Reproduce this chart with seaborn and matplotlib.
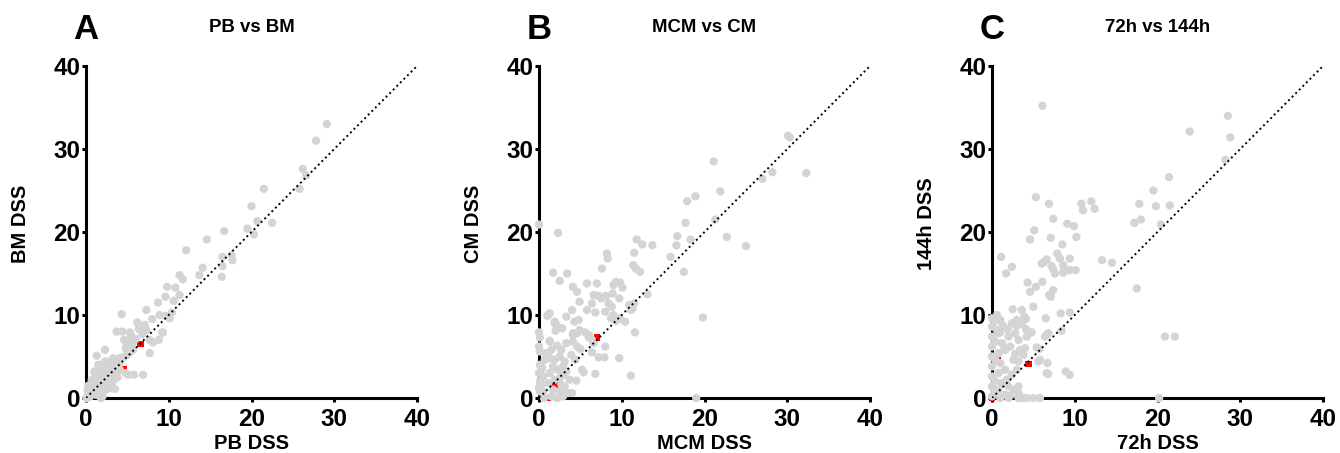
import matplotlib
matplotlib.use("Agg")
import matplotlib.pyplot as plt
import seaborn as sns

# ---------------- data ----------------
panel_letters = ["A", "B", "C"]
panel_titles = ["PB vs BM", "MCM vs CM", "72h vs 144h"]
x_labels = ["PB DSS", "MCM DSS", "72h DSS"]
y_labels = ["BM DSS", "CM DSS", "144h DSS"]
ticks = [0, 10, 20, 30, 40]
diag = [0, 40]

a_pts = [(29.1,33.0),(27.8,31.0),(26.2,27.6),(26.6,26.8),(25.8,25.2),(21.5,25.2),(20.0,23.1),(20.7,21.3),
         (22.5,21.1),(19.5,20.4),(20.3,19.7),(16.7,20.1),(14.6,19.1),(12.1,17.8),(16.5,17.0),(17.7,16.6),
         (17.6,17.2),(14.1,15.7),(16.4,14.6),(16.5,15.9),(13.7,14.8),(11.3,14.8),(11.7,14.3),(9.8,13.4),
         (10.8,13.3),(11.3,12.4),(9.6,12.2),(10.6,11.7),(8.7,11.5),(7.3,10.6),(4.3,10.1),(8.9,10.0),
         (10.1,9.6),(6.2,9.1),(8.0,9.5),(9.3,7.9),(8.8,7.0),(3.7,8.0),(4.4,8.0),(5.3,7.9),(6.4,8.3),
         (7.3,8.2),(8.1,6.7),(7.7,5.4),(6.9,2.8),(2.3,5.8),(1.3,5.1),(4.6,7.0),(4.9,6.2),(5.7,5.8),
         (3.2,1.2),(5.1,2.8),(4.1,3.4),(6.5,8.6),(7.1,8.8),(7.7,7.0),(9.2,7.9),(5.2,7.0),(5.6,6.6),
         (5.5,5.9),(4.8,6.0),(3.3,4.8),(4.1,4.8),(3.7,4.4),(2.3,4.4),(2.5,3.8),(2.1,3.4),
         (1.7,3.0),(4.8,3.0),(5.8,2.8),(3.8,2.5),(3.4,2.2),(3.5,1.1),(2.9,1.2),(9.6,9.9),(10.4,10.3),
         (5.5,7.4),(6.8,7.7),(6.0,7.1),
         (0.2,0.3),(0.4,0.8),(0.5,0.2),(0.6,1.2),(0.8,0.5),(0.9,1.6),(1.0,1.0),(1.1,2.0),(1.2,0.4),
         (1.3,1.4),(1.4,2.5),(1.5,1.8),(1.6,0.9),(1.7,3.3),(1.8,2.2),(1.9,0.3),(2.0,1.5),(2.1,2.8),
         (2.2,3.6),(2.4,1.0),(2.5,2.0),(2.6,4.0),(2.8,4.4),(3.0,3.0),(3.1,1.6),(3.3,2.6),(3.4,4.1),
         (3.6,3.5),(3.9,4.6),(4.0,4.2),(0.1,0.0),(0.3,1.5),(0.7,2.2),(1.0,3.2),(1.5,4.0),(1.8,0.0),
         (2.0,0.2),(0.5,0.6),(0.2,1.0),(4.5,4.9),(5.0,5.2),(5.3,5.5),(3.2,3.8),(2.7,3.1),(1.2,2.7)]
a_x = [p[0] for p in a_pts]
a_y = [p[1] for p in a_pts]
a_red_x = [6.6, 4.5]
a_red_y = [6.5, 3.5]

b_pts = [(30.1,31.6),(30.3,31.4),(21.1,28.5),(32.3,27.1),(28.2,27.2),(27.0,26.4),(21.9,24.9),(18.9,24.3),
         (17.9,23.7),(21.3,21.5),(17.7,21.1),(0.0,20.9),(2.3,19.9),(16.7,19.5),(22.7,19.4),(18.3,19.1),
         (11.8,19.1),(12.5,18.5),(13.7,18.4),(16.6,18.4),(25.0,18.3),(11.5,17.5),(8.2,17.4),(8.3,16.8),
         (15.9,17.0),(11.4,16.0),(11.7,15.6),(12.2,15.2),(7.6,15.6),(17.5,15.2),(1.7,15.1),(3.4,15.0),
         (2.5,14.1),(5.8,13.8),(7.0,13.8),(4.1,13.4),(9.3,14.0),(9.0,13.6),(9.8,13.9),(10.1,13.3),
         (4.6,12.8),(6.6,12.4),(7.2,12.3),(7.5,12.0),(8.1,12.3),(13.1,12.5),(8.9,12.6),(4.9,11.6),
         (6.4,11.4),(8.4,11.4),(8.8,11.0),(10.9,11.2),(11.3,10.8),(11.5,11.4),(9.7,12.0),(4.0,10.6),
         (5.8,10.6),(1.3,10.2),(1.0,9.9),(6.8,10.3),(8.0,10.4),(11.1,10.6),(9.0,10.0),(3.3,9.8),
         (4.3,9.2),(4.8,9.4),(1.9,9.2),(2.1,8.8),(8.7,9.6),(9.3,9.3),(9.8,9.6),(10.4,9.2),(19.8,9.7),
         (2.8,8.4),(2.0,8.1),(4.1,7.6),(4.6,7.8),(5.6,7.9),(6.0,7.6),(11.6,7.9),(0.0,7.9),(6.0,7.3),
         (6.4,7.0),(6.6,6.6),(1.3,6.9),(8.0,6.2),(4.6,6.2),(5.0,5.9),(2.7,5.8),(6.4,5.5),(7.2,4.9),
         (7.9,4.9),(9.7,4.8),(3.9,5.2),(4.4,4.6),(5.2,3.4),(5.4,3.1),(4.5,2.1),(6.8,2.9),(11.1,2.7),
         (19.0,0.0),(4.0,0.6),
         (1.1,10.0),(1.9,9.0),(1.3,6.8),(3.3,6.6),(4.1,6.8),(4.1,7.8),(4.9,8.2),(0.1,7.3),(0.1,5.6),
         (0.1,4.0),(0.1,2.0),(0.1,0.8),(0.7,4.6),(1.3,4.8),(1.9,4.6),(2.5,5.0),(3.1,4.4),(1.7,3.8),
         (2.3,3.4),(2.9,3.8),(1.3,3.0),(0.5,2.6),(1.9,2.2),(1.1,1.8),(2.5,2.4),(3.3,3.2),(3.7,2.2),
         (3.1,1.4),(1.7,1.0),(2.5,0.8),(0.5,0.8),(1.5,0.2),(2.9,0.2),(3.5,0.6),(0.0,6.2),(0.0,3.0),
         (0.0,1.2),(0.4,3.6),(0.8,5.4),(1.5,5.8),(2.2,6.3),(0.6,0.0),(2.2,0.0),(3.0,2.8),(0.3,1.6),
         (2.7,1.6)]
b_x = [p[0] for p in b_pts]
b_y = [p[1] for p in b_pts]
b_red_x = [7.0, 1.9, 1.0]
b_red_y = [7.3, 1.6, 0.0]

c_pts = [(6.1,35.2),(28.5,34.0),(28.8,31.4),(23.9,32.1),(28.2,28.7),(21.4,26.6),(19.5,25.0),(19.8,23.1),
         (21.5,23.2),(17.8,23.4),(17.2,21.1),(18.0,21.5),(20.4,20.9),(5.3,24.2),(6.9,23.4),(10.8,23.4),
         (11.0,22.6),(12.0,23.7),(12.4,22.8),(7.4,21.6),(9.1,21.0),(9.9,20.7),(5.1,20.2),(10.2,19.4),
         (4.6,19.1),(7.1,19.3),(8.5,18.5),(7.9,17.4),(8.2,16.8),(1.1,17.0),(9.4,16.8),(6.6,16.7),
         (6.3,16.4),(6.0,16.2),(13.3,16.6),(14.5,16.3),(2.4,15.8),(7.2,15.9),(7.4,15.5),(7.6,15.0),
         (8.6,16.0),(8.7,15.5),(8.6,15.1),(9.4,15.4),(10.1,15.4),(1.7,15.0),(4.3,13.9),(6.1,14.0),
         (5.3,13.4),(17.5,13.2),(4.6,12.8),(7.4,13.0),(6.9,12.4),(7.1,12.2),(5.0,11.0),(2.5,10.7),
         (3.6,10.6),(9.4,10.3),(8.3,10.2),(0.6,10.0),(1.0,9.4),(0.4,9.3),(3.9,9.8),(4.1,9.5),(2.5,9.0),
         (3.0,8.7),(6.5,9.6),(1.9,8.3),(1.0,7.9),(4.1,8.3),(4.8,7.9),(8.4,8.1),(6.8,7.8),(6.4,7.4),
         (5.4,6.1),(5.7,5.9),(5.8,4.6),(6.7,4.2),(6.8,2.9),(8.9,3.2),(9.4,2.8),(20.9,7.4),(22.1,7.4),
         (20.2,0.0),(1.0,0.0),(2.0,0.0),(3.2,0.0),(3.8,0.0),(4.2,0.0),(5.0,0.0),(5.8,0.0),(3.2,1.4),
         (2.7,1.0),
         (0.0,8.6),(0.0,7.4),(0.0,6.2),(0.0,5.0),(0.0,3.8),(0.0,2.6),(0.0,1.4),(0.0,0.2),(0.8,7.8),
         (1.2,6.6),(0.8,5.4),(1.6,5.8),(1.0,4.2),(1.6,3.4),(0.8,3.0),(1.2,1.8),(0.8,1.0),(2.0,1.4),
         (1.6,0.4),(2.4,9.0),(3.0,9.4),(3.6,9.0),(2.8,7.8),(2.0,7.4),(3.2,7.0),(4.2,7.4),(2.2,6.2),
         (3.4,5.8),(3.8,5.2),(2.6,4.6),(3.2,4.4),(3.0,3.4),(2.4,2.8),(1.8,2.2),(6.6,7.6),(5.6,4.4),
         (6.6,3.0),(0.0,9.6),(0.4,6.8),(0.4,4.6),(0.4,2.0),(0.3,0.6),(1.3,8.7),(1.5,6.0),(2.8,5.3),
         (4.0,6.0),(0.6,8.2),(3.2,0.6),(2.2,0.3)]
c_x = [p[0] for p in c_pts]
c_y = [p[1] for p in c_pts]
c_red_x = [4.4, 0.7, 0.0]
c_red_y = [4.1, 4.5, 0.0]

gray_x = [a_x, b_x, c_x]
gray_y = [a_y, b_y, c_y]
red_x = [a_red_x, b_red_x, c_red_x]
red_y = [a_red_y, b_red_y, c_red_y]

# ---------------- style ----------------
sns.set_style("ticks")
plt.rcParams['font.family'] = ['Liberation Sans', 'DejaVu Sans']
plt.rcParams['font.weight'] = 'bold'
plt.rcParams['text.color'] = 'black'
plt.rcParams['axes.labelcolor'] = 'black'
plt.rcParams['xtick.color'] = 'black'
plt.rcParams['ytick.color'] = 'black'
plt.rcParams['xtick.labelcolor'] = 'black'
plt.rcParams['ytick.labelcolor'] = 'black'

fig = plt.figure(figsize=(13.4, 4.53), dpi=100)
lefts = [86 / 1340, 539 / 1340, 992 / 1340]
width = 331 / 1340
bottom = 1 - 398 / 453
height = 332 / 453

for i in range(3):
    ax = fig.add_axes([lefts[i], bottom, width, height])
    sns.scatterplot(x=red_x[i], y=red_y[i], ax=ax, color="#ff0000", marker="s",
                    s=24, edgecolor="none", linewidth=0, zorder=3, clip_on=False)
    sns.scatterplot(x=gray_x[i], y=gray_y[i], ax=ax, color="#d4d4d4",
                    s=36, edgecolor="none", linewidth=0, zorder=3.5, clip_on=False)
    ax.plot(diag, diag, color="black", linestyle=(0, (1, 1.6)), linewidth=1.4, zorder=4)

    ax.set_xlim(0, 40)
    ax.set_ylim(0, 40)
    ax.set_xticks(ticks)
    ax.set_yticks(ticks)
    ax.set_xticklabels([str(t) for t in ticks])
    ax.set_yticklabels([str(t) for t in ticks])
    for side in ["top", "right"]:
        ax.spines[side].set_visible(False)
    for side in ["left", "bottom"]:
        ax.spines[side].set_linewidth(2.2)
        ax.spines[side].set_color("black")
        ax.spines[side].set_capstyle("projecting")
    ax.tick_params(axis="both", which="major", length=3.2, width=2.2,
                   labelsize=17.5, direction="out", color="black", labelcolor="black")
    ax.tick_params(axis="x", pad=4.2)
    ax.tick_params(axis="y", pad=0.8)
    for lab in ax.get_xticklabels() + ax.get_yticklabels():
        lab.set_fontweight("bold")

    ax.set_xlabel(x_labels[i], fontsize=14.5, fontweight="bold", color="black")
    ax.set_ylabel(y_labels[i], fontsize=14.5, fontweight="bold", color="black")
    ax.xaxis.set_label_coords(0.5, -0.138)
    ax.xaxis.label.set_verticalalignment("center")
    ax.yaxis.set_label_coords(-0.198, 0.525)
    ax.yaxis.label.set_verticalalignment("center")

    ax.text(0.5, 1.117, panel_titles[i], transform=ax.transAxes, ha="center", va="center",
            fontsize=13.4, fontweight="bold", color="black")
    ax.text(0.0, 1.11, panel_letters[i], transform=ax.transAxes, ha="center", va="center",
            fontsize=25, fontweight="bold", color="black")

fig.savefig("out.png", dpi=100)
